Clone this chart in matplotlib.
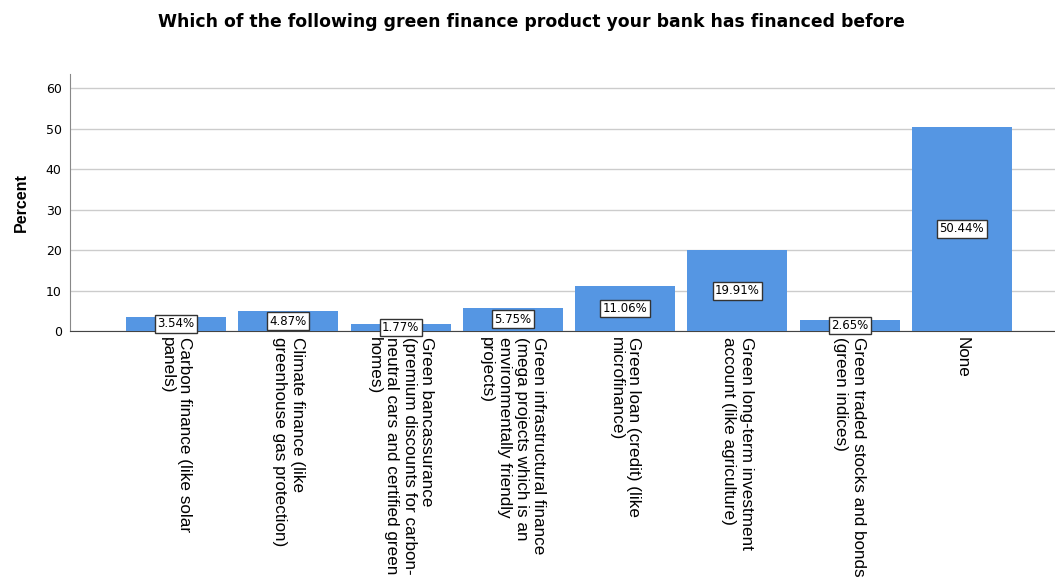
import matplotlib.pyplot as plt

plt.rcParams['font.family'] = ['Liberation Sans', 'DejaVu Sans']

# Données
categories = [
    "Carbon finance (like solar\npanels)",
    "Climate finance (like\ngreenhouse gas protection)",
    "Green bancassurance\n(premium discounts for carbon-\nneutral cars and certified green\nhomes)",
    "Green infrastructural finance\n(mega projects which is an\nenvironmentally friendly\nprojects)",
    "Green loan (credit) (like\nmicrofinance)",
    "Green long-term investment\naccount (like agriculture)",
    "Green traded stocks and bonds\n(green indices)",
    "None",
]
pourcentages = [3.54, 4.87, 1.77, 5.75, 11.06, 19.91, 2.65, 50.44]
yticks = [0, 10, 20, 30, 40, 50, 60]

fig = plt.figure(figsize=(10.55, 5.82), dpi=100)
ax = fig.add_axes([0.0664, 0.4313, 0.9336, 0.4416])

x = list(range(len(categories)))
ax.bar(x, pourcentages, width=0.89, color='#5596E3', zorder=3)

for xi, v in zip(x, pourcentages):
    ax.text(xi, v / 2, f"{v:.2f}%", ha='center', va='center', fontsize=8.5, zorder=4,
            family='DejaVu Sans',
            bbox=dict(boxstyle='square,pad=0.2', facecolor='white', edgecolor='#333333', linewidth=1))

ax.set_xlim(-0.945, 7.83)
ax.set_ylim(0, 63.5)
ax.set_yticks(yticks)
ax.yaxis.grid(True, color='#cccccc', linewidth=1, zorder=0)
ax.set_axisbelow(True)
ax.tick_params(axis='y', length=0, labelsize=9, pad=6)
for t in ax.get_yticklabels():
    t.set_family('DejaVu Sans')
ax.tick_params(axis='x', length=0, pad=4)
ax.set_xticks(x)
ax.set_xticklabels(categories, rotation=270, ha='center', va='top', fontsize=12.3,
                   multialignment='left', linespacing=1.2)

for s in ['top', 'right']:
    ax.spines[s].set_visible(False)
ax.spines['left'].set_color('#888888')
ax.spines['bottom'].set_color('#444444')

ax.set_ylabel('Percent', fontsize=11.5, fontweight='bold', labelpad=12)
fig.text(0.504, 0.962, 'Which of the following green finance product your bank has financed before',
         ha='center', va='center', fontsize=12.4, fontweight='bold', family='DejaVu Sans')

fig.savefig('out.png', dpi=100)
